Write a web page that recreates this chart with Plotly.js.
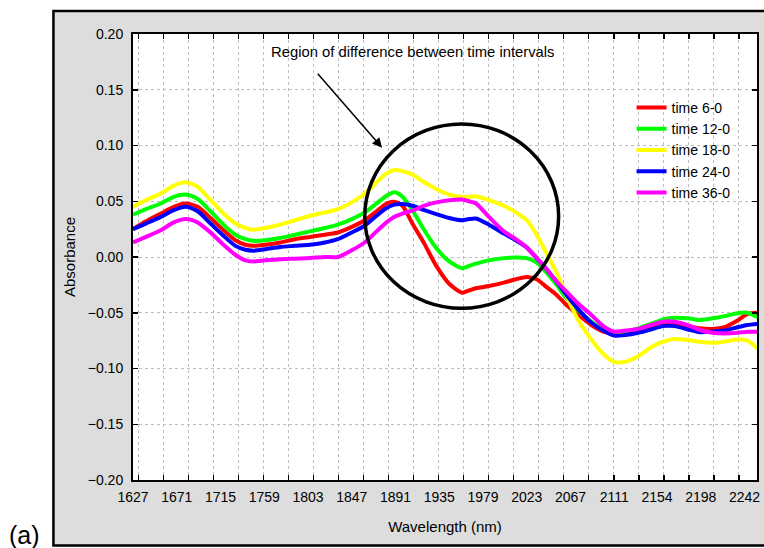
<!DOCTYPE html>
<html>
<head>
<meta charset="utf-8">
<script src="https://cdn.plot.ly/plotly-3.0.1.min.js"></script>
<style>
  html, body { margin: 0; padding: 0; background: #ffffff; }
  #chart { width: 764px; height: 548px; }
</style>
</head>
<body>
<div id="chart"></div>
<script>
// Difference spectra (absorbance) against wavelength for each time interval
const wavelength = [1627, 1640, 1655, 1668, 1680, 1692, 1705, 1718, 1730, 1740,
  1748, 1760, 1775, 1790, 1805, 1820, 1833, 1847, 1860, 1872,
  1882, 1890, 1898, 1908, 1920, 1932, 1945, 1958, 1965, 1972,
  1985, 2000, 2012, 2023, 2033, 2043, 2053, 2063, 2075, 2088,
  2100, 2111, 2122, 2135, 2148, 2160, 2172, 2185, 2197, 2210,
  2222, 2235, 2245, 2255];

const time6 = [0.025, 0.032, 0.039, 0.045, 0.048, 0.045, 0.035, 0.024, 0.015, 0.011,
  0.010, 0.011, 0.013, 0.016, 0.018, 0.020, 0.022, 0.027, 0.033, 0.041,
  0.048, 0.0495, 0.046, 0.030, 0.012, -0.008, -0.024, -0.032, -0.030, -0.028,
  -0.026, -0.023, -0.020, -0.018, -0.020, -0.027, -0.034, -0.043, -0.052, -0.061,
  -0.067, -0.069, -0.068, -0.066, -0.063, -0.0595, -0.0595, -0.062, -0.064, -0.0645,
  -0.063, -0.057, -0.051, -0.050];

const time12 = [0.038, 0.043, 0.048, 0.054, 0.056, 0.052, 0.041, 0.029, 0.020, 0.016,
  0.0145, 0.015, 0.017, 0.020, 0.023, 0.026, 0.029, 0.034, 0.040, 0.048,
  0.055, 0.058, 0.054, 0.042, 0.024, 0.008, -0.004, -0.010, -0.008, -0.006,
  -0.003, -0.001, -0.0005, -0.001, -0.005, -0.014, -0.025, -0.037, -0.048, -0.058,
  -0.065, -0.068, -0.067, -0.064, -0.060, -0.056, -0.0545, -0.055, -0.0565, -0.055,
  -0.053, -0.0505, -0.050, -0.054];

const time18 = [0.045, 0.051, 0.057, 0.064, 0.067, 0.063, 0.051, 0.039, 0.030, 0.026,
  0.0245, 0.026, 0.029, 0.033, 0.037, 0.040, 0.043, 0.049, 0.057, 0.067,
  0.075, 0.078, 0.077, 0.074, 0.067, 0.061, 0.056, 0.054, 0.054, 0.0545,
  0.051, 0.046, 0.040, 0.033, 0.020, 0.003, -0.014, -0.035, -0.057, -0.074,
  -0.087, -0.094, -0.094, -0.089, -0.081, -0.076, -0.0735, -0.0745, -0.076, -0.077,
  -0.076, -0.074, -0.075, -0.082];

const time24 = [0.025, 0.030, 0.036, 0.042, 0.045, 0.041, 0.030, 0.019, 0.010, 0.0065,
  0.0057, 0.007, 0.009, 0.010, 0.011, 0.013, 0.016, 0.022, 0.028, 0.037,
  0.044, 0.047, 0.0475, 0.046, 0.042, 0.0385, 0.035, 0.033, 0.034, 0.0345,
  0.029, 0.021, 0.015, 0.0086, -0.001, -0.011, -0.022, -0.034, -0.047, -0.059,
  -0.066, -0.0705, -0.070, -0.068, -0.065, -0.062, -0.062, -0.065, -0.0675, -0.067,
  -0.066, -0.063, -0.061, -0.060];

const time36 = [0.013, 0.018, 0.024, 0.031, 0.034, 0.031, 0.022, 0.011, 0.002, -0.003,
  -0.004, -0.003, -0.002, -0.0015, -0.001, 0.0, 0.0, 0.006, 0.013, 0.023,
  0.031, 0.036, 0.039, 0.0415, 0.046, 0.049, 0.051, 0.0515, 0.050, 0.048,
  0.036, 0.023, 0.016, 0.0086, -0.001, -0.011, -0.022, -0.031, -0.042, -0.052,
  -0.062, -0.067, -0.066, -0.0645, -0.061, -0.058, -0.058, -0.061, -0.0655, -0.068,
  -0.0685, -0.068, -0.067, -0.067];

const seriesNames = ['time 6-0', 'time 12-0', 'time 18-0', 'time 24-0', 'time 36-0'];
const seriesColors = ['#ff0000', '#00ff00', '#ffff00', '#0000ff', '#ff00ff'];
const seriesValues = [time6, time12, time18, time24, time36];

// Wavelength labels along the bottom axis
const xTickLabels = [1627, 1671, 1715, 1759, 1803, 1847, 1891, 1935, 1979, 2023,
  2067, 2111, 2154, 2198, 2242];

const FONT = 'Liberation Sans, Arial, Helvetica, sans-serif';

const traces = seriesValues.map((vals, i) => ({
  type: 'scatter',
  mode: 'lines',
  name: seriesNames[i],
  x: wavelength,
  y: vals,
  line: { color: seriesColors[i], width: 4, shape: 'spline', smoothing: 0.7 }
}));

const layout = {
  width: 764,
  height: 548,
  margin: { l: 133, r: 7, t: 34, b: 68, pad: 0 },
  paper_bgcolor: '#ffffff',
  plot_bgcolor: 'rgba(0,0,0,0)',
  font: { family: FONT, size: 14, color: '#000000' },
  showlegend: true,
  legend: {
    x: 0.799, y: 0.87, xanchor: 'left', yanchor: 'top',
    bgcolor: 'rgba(0,0,0,0)', borderwidth: 0,
    font: { family: FONT, size: 14, color: '#000000' }
  },
  xaxis: {
    range: [1627, 2254.6],
    tickmode: 'array',
    tickvals: xTickLabels,
    ticktext: xTickLabels.map(String),
    ticks: 'inside', ticklen: 0,
    showgrid: false, zeroline: false,
    showline: true, linecolor: '#000000', linewidth: 2, mirror: 'ticks',
    tickfont: { family: FONT, size: 14, color: '#000000' },
    ticklabelstandoff: 3,
    minor: {
      tick0: 1632.3, dtick: 25.17,
      ticks: 'inside', ticklen: 5, tickwidth: 1.5, tickcolor: '#000000',
      showgrid: true, gridcolor: '#bdbdbd', gridwidth: 1, griddash: 'dot'
    },
    title: { text: 'Wavelength (nm)', font: { family: FONT, size: 15, color: '#000000' }, standoff: 18 }
  },
  yaxis: {
    range: [-0.2, 0.2],
    tick0: 0, dtick: 0.05, tickformat: '.2f',
    ticks: 'inside', ticklen: 5, tickwidth: 1.5, tickcolor: '#000000',
    showgrid: true, gridcolor: '#bdbdbd', gridwidth: 1, griddash: 'dot',
    zeroline: false,
    showline: true, linecolor: '#000000', linewidth: 2, mirror: 'ticks',
    tickfont: { family: FONT, size: 14, color: '#000000' },
    ticklabelstandoff: 5,
    title: { text: 'Absorbance', font: { family: FONT, size: 15, color: '#000000' }, standoff: 9 }
  },
  shapes: [
    // grey panel behind the whole chart
    { type: 'rect', xref: 'paper', yref: 'paper', layer: 'below',
      x0: -0.1275, x1: 1.02, y0: -0.147, y1: 1.0516,
      fillcolor: '#dddddd', line: { color: '#000000', width: 2.5 } },
    // white plotting area
    { type: 'rect', xref: 'paper', yref: 'paper', layer: 'below',
      x0: 0, x1: 1, y0: 0, y1: 1,
      fillcolor: '#ffffff', line: { width: 0 } },
    // ellipse marking the region of difference
    { type: 'circle', xref: 'x', yref: 'y', layer: 'above',
      x0: 1860.1, x1: 2055.1, y0: -0.046, y1: 0.1193,
      line: { color: '#000000', width: 3.5 } }
  ],
  annotations: [
    { xref: 'x', yref: 'y', x: 1908.8, y: 0.1843,
      text: 'Region of difference between time intervals',
      showarrow: false, font: { family: FONT, size: 14.8, color: '#000000' } },
    { xref: 'x', yref: 'y', x: 1877.5, y: 0.098, ax: -65.6, ay: -75.4,
      text: '', showarrow: true, arrowhead: 2, arrowsize: 1.3, arrowwidth: 1.5,
      arrowcolor: '#000000' },
    { xref: 'paper', yref: 'paper', x: -0.1745, y: -0.1233, xanchor: 'center', yanchor: 'middle',
      text: '(a)', showarrow: false, font: { family: FONT, size: 25, color: '#000000' } }
  ]
};

Plotly.newPlot('chart', traces, layout, { displayModeBar: false, staticPlot: true });
</script>
</body>
</html>
